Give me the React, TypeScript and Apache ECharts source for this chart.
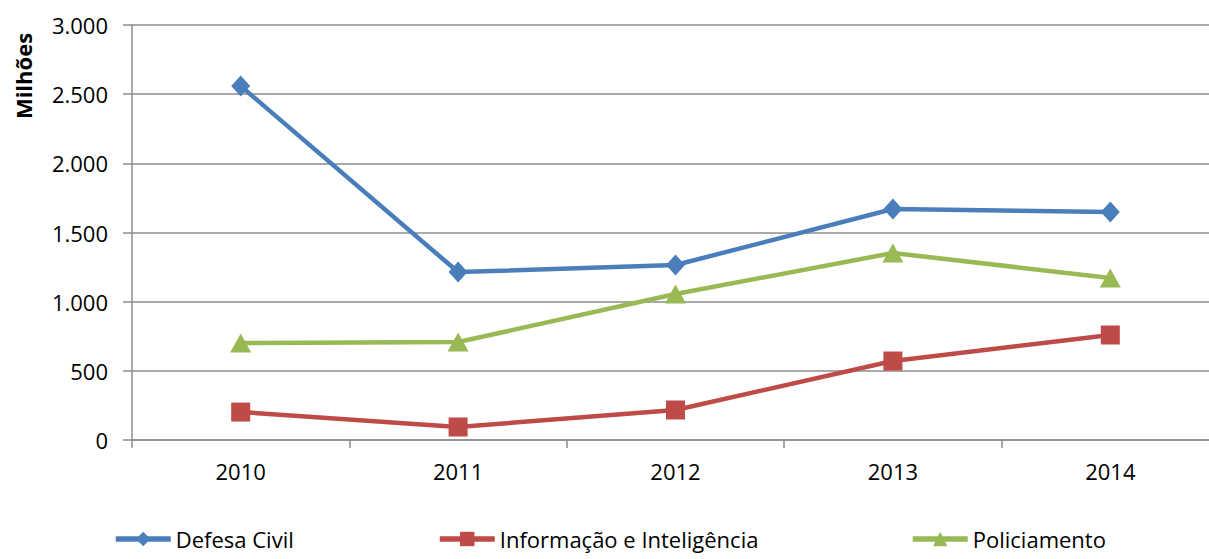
import React, { useEffect, useRef } from "react";
import * as echarts from "echarts";

const years = ["2010", "2011", "2012", "2013", "2014"];
const defesaCivil = [2559, 1214, 1265, 1670, 1648];
const informacao = [202, 94, 217, 571, 759];
const policiamento = [701, 708, 1055, 1352, 1171];
const yTicks = { min: 0, max: 3000, interval: 500 };

const FONT = "Open Sans";

export default function App() {
  const ref = useRef<HTMLDivElement>(null);
  useEffect(() => {
    if (!ref.current) return;
    const chart = echarts.init(ref.current, undefined, { renderer: "svg" });
    const fmt = (v: number) =>
      String(v).replace(/\B(?=(\d{3})+(?!\d))/g, ".");
    const legendBase = {
      top: 528,
      padding: 0,
      itemWidth: 55,
      itemHeight: 18,
      lineStyle: { width: 5.5 },
      textStyle: { fontFamily: FONT, fontSize: 22, color: "#000" },
    };
    chart.setOption({
      animation: false,
      backgroundColor: "#fff",
      grid: { left: 132, right: 0, top: 25, bottom: 119, containLabel: false },
      xAxis: {
        type: "category",
        data: years,
        boundaryGap: true,
        axisLine: { show: true, lineStyle: { color: "#8c8c8c", width: 1.5 } },
        axisTick: { show: true, alignWithLabel: false, length: 8, lineStyle: { color: "#8c8c8c", width: 1.5 } },
        axisLabel: { margin: 20, fontFamily: FONT, fontSize: 22, color: "#000" },
        splitLine: { show: false },
      },
      yAxis: {
        type: "value",
        min: yTicks.min,
        max: yTicks.max,
        interval: yTicks.interval,
        axisLine: { show: true, lineStyle: { color: "#8c8c8c", width: 1.5 } },
        axisTick: { show: true, length: 9, lineStyle: { color: "#8c8c8c", width: 1.5 } },
        axisLabel: { margin: 24, fontFamily: FONT, fontSize: 22, color: "#000", formatter: fmt },
        splitLine: { show: true, lineStyle: { color: "#8c8c8c", width: 1.5 } },
      },
      graphic: [
        {
          type: "text",
          x: 23,
          y: 76,
          rotation: Math.PI / 2,
          style: {
            text: "Milhões",
            fontFamily: FONT,
            fontSize: 22,
            fontWeight: "bold",
            fill: "#000",
            align: "center",
            verticalAlign: "middle",
          },
        },
      ],
      legend: [
        { ...legendBase, left: 113, data: ["Defesa Civil"] },
        { ...legendBase, left: 437, data: ["Informação e Inteligência"] },
        { ...legendBase, left: 910, data: ["Policiamento"] },
      ],
      series: [
        {
          name: "Defesa Civil",
          type: "line",
          data: defesaCivil,
          symbol: "diamond",
          symbolSize: [19, 21],
          lineStyle: { color: "#4A7EBB", width: 4.5 },
          itemStyle: { color: "#4A7EBB" },
        },
        {
          name: "Informação e Inteligência",
          type: "line",
          data: informacao,
          symbol: "rect",
          symbolSize: 19,
          lineStyle: { color: "#BE4B48", width: 4.5 },
          itemStyle: { color: "#BE4B48" },
        },
        {
          name: "Policiamento",
          type: "line",
          data: policiamento,
          symbol: "triangle",
          symbolSize: [21, 19],
          lineStyle: { color: "#98B954", width: 4.5 },
          itemStyle: { color: "#98B954" },
        },
      ],
    });
    return () => chart.dispose();
  }, []);
  return (
    <div style={{ position: "absolute", left: 0, top: 0, width: 1209, height: 559, overflow: "hidden", background: "#fff" }}>
      <div ref={ref} style={{ width: 1219, height: 559 }} />
    </div>
  );
}
